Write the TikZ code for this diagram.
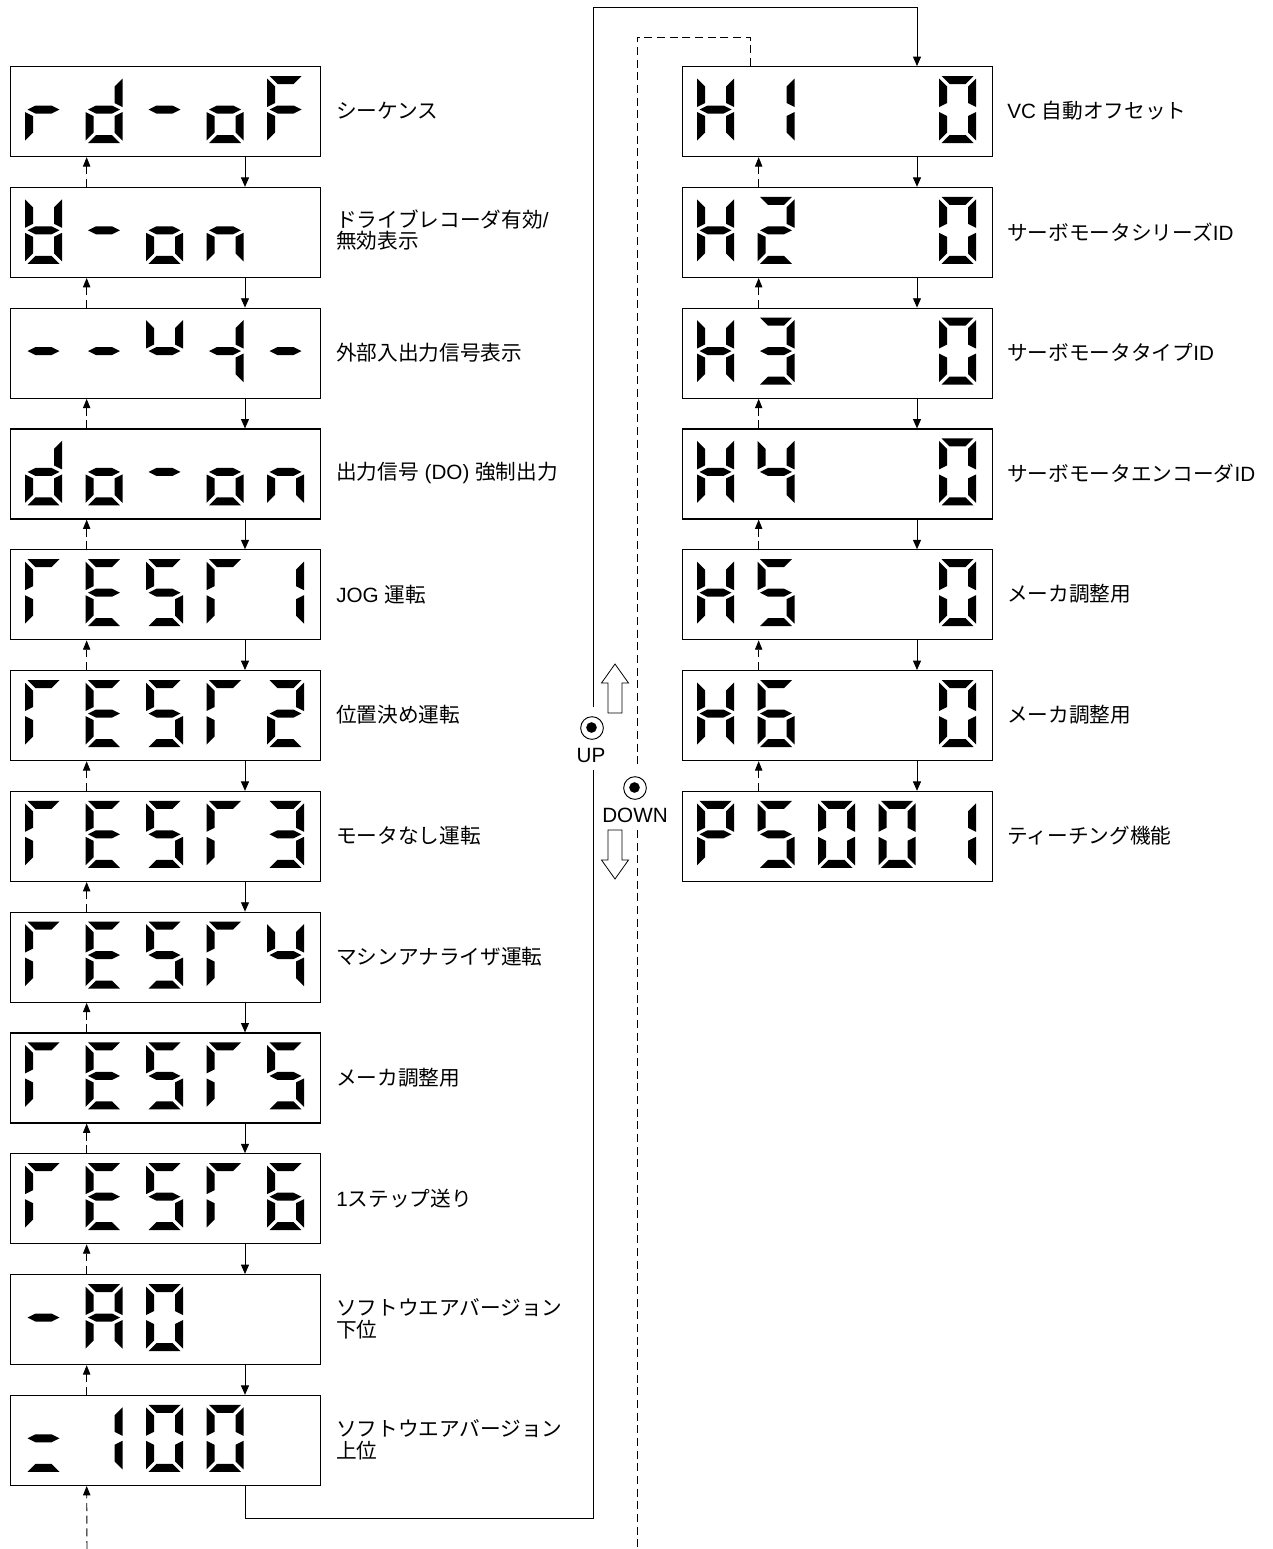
\documentclass[tikz,border=0pt]{standalone}
\usepackage{fontspec}
\setmainfont{Liberation Sans}
\newfontfamily\jp{Noto Sans CJK JP}
\usetikzlibrary{arrows.meta,calc}
% seven segments, local px coordinates (W=37, H=67, t=8)
\newcommand\sgA{\fill (2.5,0) -- (34.5,0) -- (26.5,8) -- (10.5,8) -- cycle;}
\newcommand\sgD{\fill (2.5,67) -- (34.5,67) -- (26.5,59) -- (10.5,59) -- cycle;}
\newcommand\sgF{\fill (0,2.5) -- (8,10.5) -- (8,27) -- (0,31) -- cycle;}
\newcommand\sgE{\fill (0,36) -- (8,40) -- (8,56.5) -- (0,64.5) -- cycle;}
\newcommand\sgB{\fill (37,2.5) -- (29,10.5) -- (29,27) -- (37,31) -- cycle;}
\newcommand\sgC{\fill (37,36) -- (29,40) -- (29,56.5) -- (37,64.5) -- cycle;}
\newcommand\sgG{\fill (2.5,33.5) -- (10.5,29.5) -- (26.5,29.5) -- (34.5,33.5) -- (26.5,37.5) -- (10.5,37.5) -- cycle;}
% glyphs
\newcommand\dgr{\sgE\sgG}
\newcommand\dgd{\sgB\sgC\sgD\sgE\sgG}
\newcommand\dgm{\sgG}
\newcommand\dgo{\sgC\sgD\sgE\sgG}
\newcommand\dgF{\sgA\sgF\sgG\sgE}
\newcommand\dgU{\sgB\sgC\sgD\sgE\sgF\sgG}
\newcommand\dgn{\sgC\sgE\sgG}
\newcommand\dgu{\sgF\sgB\sgG}
\newcommand\dgq{\sgG\sgB\sgC}
\newcommand\dgR{\sgA\sgF\sgE}
\newcommand\dgE{\sgA\sgF\sgG\sgE\sgD}
\newcommand\dgS{\sgA\sgF\sgG\sgC\sgD}
\newcommand\dgI{\sgB\sgC}
\newcommand\dgII{\sgA\sgB\sgG\sgE\sgD}
\newcommand\dgIII{\sgA\sgB\sgG\sgC\sgD}
\newcommand\dgIV{\sgF\sgG\sgB\sgC}
\newcommand\dgVI{\sgA\sgF\sgG\sgE\sgD\sgC}
\newcommand\dgA{\sgA\sgB\sgC\sgE\sgF\sgG}
\newcommand\dgO{\sgA\sgB\sgC\sgD\sgE\sgF}
\newcommand\dgeq{\sgG\sgD}
\newcommand\dgH{\sgB\sgC\sgE\sgF\sgG}
\newcommand\dgP{\sgA\sgB\sgF\sgG\sgE}
\newcommand\dgx{}
\newcommand\dig[3]{\begin{scope}[shift={({#1},{#2})}]#3\end{scope}}
% panel: name, left, top, 5 glyphs
\newcommand\panel[8]{%
  \node[dbox,anchor=north west] (#1) at (#2,#3) {};
  \dig{#2+15}{#3+10}{#4}\dig{#2+75.5}{#3+10}{#5}\dig{#2+136}{#3+10}{#6}%
  \dig{#2+196.5}{#3+10}{#7}\dig{#2+257}{#3+10}{#8}}
\tikzset{
  dbox/.style={draw,line width=0.9pt,minimum width=232.5pt,minimum height=67.5pt,inner sep=0pt},
  lbl/.style={anchor=west,align=left,inner sep=0pt,font=\fontsize{15.5pt}{16pt}\selectfont},
  conn/.style={line width=0.7pt},
  dn/.style={conn,-{Triangle[length=7pt,width=6pt]}},
  dsh/.style={line width=0.7pt,dash pattern=on 6pt off 3.5pt},
  up/.style={dsh,-{Triangle[length=7pt,width=5.5pt]}},
  hollow/.style={draw,line width=0.6pt,fill=white},
  btn/.style={circle,draw,line width=0.7pt,minimum size=17pt,inner sep=0pt}
}
\begin{document}
\begin{tikzpicture}[x=0.75pt,y=-0.75pt]
\useasboundingbox[fill=white] (0,0) rectangle (1272,1549);
% left column
\panel{L1}{10}{66}{\dgr}{\dgd}{\dgm}{\dgo}{\dgF}
\panel{L2}{10}{186.8}{\dgU}{\dgm}{\dgo}{\dgn}{\dgx}
\panel{L3}{10}{307.6}{\dgm}{\dgm}{\dgu}{\dgq}{\dgm}
\panel{L4}{10}{428.4}{\dgd}{\dgo}{\dgm}{\dgo}{\dgn}
\panel{L5}{10}{549.2}{\dgR}{\dgE}{\dgS}{\dgR}{\dgI}
\panel{L6}{10}{670}{\dgR}{\dgE}{\dgS}{\dgR}{\dgII}
\panel{L7}{10}{790.8}{\dgR}{\dgE}{\dgS}{\dgR}{\dgIII}
\panel{L8}{10}{911.6}{\dgR}{\dgE}{\dgS}{\dgR}{\dgIV}
\panel{L9}{10}{1032.4}{\dgR}{\dgE}{\dgS}{\dgR}{\dgS}
\panel{L10}{10}{1153.2}{\dgR}{\dgE}{\dgS}{\dgR}{\dgVI}
\panel{L11}{10}{1274}{\dgm}{\dgA}{\dgO}{\dgx}{\dgx}
\panel{L12}{10}{1394.8}{\dgeq}{\dgI}{\dgO}{\dgO}{\dgx}
% right column
\panel{R1}{682}{66}{\dgH}{\dgI}{\dgx}{\dgx}{\dgO}
\panel{R2}{682}{186.8}{\dgH}{\dgII}{\dgx}{\dgx}{\dgO}
\panel{R3}{682}{307.6}{\dgH}{\dgIII}{\dgx}{\dgx}{\dgO}
\panel{R4}{682}{428.4}{\dgH}{\dgIV}{\dgx}{\dgx}{\dgO}
\panel{R5}{682}{549.2}{\dgH}{\dgS}{\dgx}{\dgx}{\dgO}
\panel{R6}{682}{670}{\dgH}{\dgVI}{\dgx}{\dgx}{\dgO}
\panel{R7}{682}{790.8}{\dgP}{\dgS}{\dgO}{\dgO}{\dgI}
% labels left
\node[lbl] (tL1) at (336,111) {\jp シーケンス};
\node[lbl] (tL2) at (336,230) {{\jp ドライブレコーダ有効}/\\{\jp 無効表示}};
\node[lbl] (tL3) at (336,352.6) {\jp 外部入出力信号表示};
\node[lbl] (tL4) at (336,473.4) {{\jp 出力信号} (DO) {\jp 強制出力}};
\node[lbl] (tL5) at (336,594.2) {JOG {\jp 運転}};
\node[lbl] (tL6) at (336,715) {\jp 位置決め運転};
\node[lbl] (tL7) at (336,835.8) {\jp モータなし運転};
\node[lbl] (tL8) at (336,956.6) {\jp マシンアナライザ運転};
\node[lbl] (tL9) at (336,1077.4) {\jp メーカ調整用};
\node[lbl] (tL10) at (336,1198.2) {1{\jp ステップ送り}};
\node[lbl] (tL11) at (336,1319) {{\jp ソフトウエアバージョン}\\{\jp 下位}};
\node[lbl] (tL12) at (336,1439.8) {{\jp ソフトウエアバージョン}\\{\jp 上位}};
% labels right
\node[lbl] (tR1) at (1007,111) {VC {\jp 自動オフセット}};
\node[lbl] (tR2) at (1007,231.8) {{\jp サーボモータシリーズ}ID};
\node[lbl] (tR3) at (1007,352.6) {{\jp サーボモータタイプ}ID};
\node[lbl] (tR4) at (1007,473.4) {{\jp サーボモータエンコーダ}ID};
\node[lbl] (tR5) at (1007,594.2) {\jp メーカ調整用};
\node[lbl] (tR6) at (1007,715) {\jp メーカ調整用};
\node[lbl] (tR7) at (1007,835.8) {\jp ティーチング機能};
% chain connectors
\foreach \a/\b in {L1/L2,L2/L3,L3/L4,L4/L5,L5/L6,L6/L7,L7/L8,L8/L9,L9/L10,L10/L11,L11/L12,R1/R2,R2/R3,R3/R4,R4/R5,R5/R6,R6/R7}{
  \draw[dn] ([xshift=176.25pt]\a.south west) -- ([xshift=176.25pt]\b.north west);
  \draw[up] ([xshift=57.5pt]\b.north west) -- ([xshift=57.5pt]\a.south west);
}
% wrap-around connectors
\coordinate (lb) at (87,1549);
\draw[up] (lb) -- ([xshift=57.5pt]L12.south west);
\coordinate (w1) at (593,1518);
\coordinate (upgapB) at (593,770);
\coordinate (upgapT) at (593,707);
\coordinate (topY) at (593,7);
\draw[conn] ([xshift=176.25pt]L12.south west) |- (w1) -- (upgapB);
\draw[dn] (upgapT) -- (topY) -| ([xshift=176.25pt]R1.north west);
\coordinate (d1) at (637,37);
\coordinate (dngapT) at (637,768);
\coordinate (dngapB) at (637,830);
\coordinate (rb) at (637,1549);
\draw[dsh] ([xshift=51pt]R1.north west) |- (d1) -- (dngapT);
\draw[dsh] (dngapB) -- (rb);
% UP / DOWN keys
\draw[hollow] (608,713) -- (608,683) -- (601.5,683) -- (615,664) -- (628.5,683) -- (622,683) -- (622,713) -- cycle;
\draw[hollow] (608,830) -- (608,860) -- (601.5,860) -- (615,879) -- (628.5,860) -- (622,860) -- (622,830) -- cycle;
\node[btn] (upbtn) at (592,728) {};
\fill (591.5,727.5) circle (4pt);
\node[btn] (dnbtn) at (635,788) {};
\fill (634.5,787.5) circle (4pt);
\node[inner sep=0pt,font=\fontsize{15.5pt}{16pt}\selectfont] (uptxt) at (591,755) {UP};
\node[inner sep=0pt,font=\fontsize{15.5pt}{16pt}\selectfont] (dntxt) at (635,815) {DOWN};
\end{tikzpicture}
\end{document}
